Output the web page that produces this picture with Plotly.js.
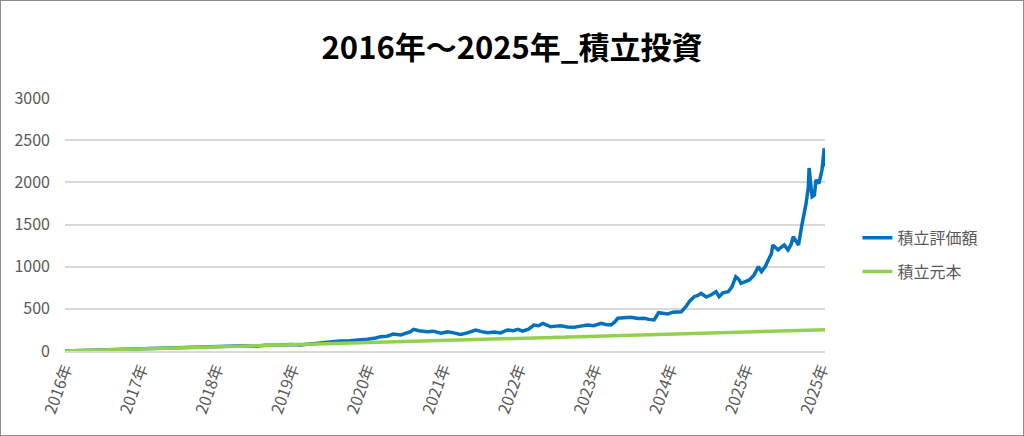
<!DOCTYPE html>
<html>
<head>
<meta charset="utf-8">
<script src="https://cdn.plot.ly/plotly-3.0.1.min.js"></script>
<style>
  html, body { margin: 0; padding: 0; background: #fff; }
  #chart { width: 1022px; height: 434px; border: 1px solid #8c8c8c; }
</style>
</head>
<body>
<div id="chart"></div>
<script>
// Tick labels (category axis, one per year position)
const tickPositions = [0, 1, 2, 3, 4, 5, 6, 7, 8, 9, 10];
const tickLabels = ["2016年", "2017年", "2018年", "2019年", "2020年", "2021年", "2022年", "2023年", "2024年", "2025年", "2025年"];

// 積立評価額 (valuation) — position along axis (years from start) and value
const valuationX = [0.00, 0.20, 0.40, 0.60, 0.79, 0.99, 1.19, 1.39, 1.59, 1.79, 2.00, 2.19, 2.38, 2.52, 2.65, 2.85, 2.99, 3.11, 3.25, 3.38,
  3.51, 3.64, 3.77, 3.91, 4.00, 4.11, 4.17, 4.26, 4.34, 4.44, 4.50, 4.57, 4.61, 4.68, 4.79, 4.87, 4.97, 5.06, 5.14, 5.23,
  5.32, 5.43, 5.51, 5.59, 5.68, 5.76, 5.85, 5.93, 5.99, 6.05, 6.13, 6.20, 6.26, 6.32, 6.38, 6.42, 6.49, 6.56, 6.64, 6.73,
  6.82, 6.91, 6.99, 7.09, 7.15, 7.22, 7.27, 7.31, 7.39, 7.48, 7.58, 7.66, 7.72, 7.79, 7.85, 7.92, 7.97, 8.04, 8.11, 8.15,
  8.21, 8.26, 8.32, 8.37, 8.41, 8.48, 8.54, 8.61, 8.65, 8.70, 8.77, 8.82, 8.87, 8.91, 8.94, 8.99, 9.05, 9.11, 9.17, 9.21,
  9.26, 9.30, 9.34, 9.36, 9.40, 9.43, 9.47, 9.51, 9.56, 9.60, 9.63, 9.67, 9.70, 9.74, 9.77, 9.80, 9.83, 9.84, 9.87, 9.88,
  9.91, 9.93, 9.97, 10.00, 10.01, 10.04, 10.05];
const valuation = [0, 5, 12, 18, 22, 28, 32, 38, 44, 48, 55, 58, 62, 56, 68, 72, 78, 72, 85, 95,
  108, 118, 122, 130, 140, 155, 170, 175, 200, 190, 210, 229, 257, 240, 229, 235, 210, 229, 215, 195,
  215, 249, 230, 217, 225, 215, 249, 240, 257, 235, 260, 308, 300, 328, 305, 288, 295, 300, 285, 281,
  295, 308, 300, 328, 315, 308, 345, 388, 395, 400, 385, 388, 375, 368, 454, 440, 439, 460, 458, 466,
  525, 590, 644, 660, 684, 640, 664, 703, 644, 690, 703, 760, 881, 850, 803, 820, 842, 900, 1000, 940,
  1000, 1079, 1150, 1257, 1220, 1198, 1230, 1257, 1198, 1260, 1355, 1300, 1257, 1474, 1593, 1750, 1948, 2170, 1900, 1830,
  1850, 2028, 1989, 2100, 2146, 2404, 2186];

// 積立元本 (principal)
const principalX = [0, 1, 2, 3, 4, 5, 6, 7, 8, 9, 10, 10.05];
const principal = [0, 25, 50, 75, 100, 125, 150, 175, 200, 225, 249, 251];

const seriesNames = ["積立評価額", "積立元本"];
const titleText = "2016年～2025年_積立投資";

const FONT = "'Noto Sans CJK JP', 'Noto Sans', sans-serif";
const GRAY = "#595959";

const traces = [
  { x: valuationX, y: valuation, name: seriesNames[0], type: "scatter", mode: "lines",
    line: { color: "#0070C0", width: 3.5 }, legendgroup: "a" },
  { x: principalX, y: principal, name: seriesNames[1], type: "scatter", mode: "lines",
    line: { color: "#92D050", width: 3.5 }, legendgroup: "b" }
];

const layout = {
  width: 1022, height: 434,
  margin: { l: 64, r: 198, t: 97, b: 84 },
  paper_bgcolor: "#ffffff", plot_bgcolor: "#ffffff",
  font: { family: FONT, color: GRAY },
  title: { text: titleText, font: { family: FONT, size: 31, color: "#000000", weight: "bold" },
    x: 0.5, xref: "container", xanchor: "center", y: 0.892, yref: "container", yanchor: "middle" },
  xaxis: {
    range: [0, 10.05], tickvals: tickPositions, ticktext: tickLabels, tickangle: -70,
    showgrid: false, zeroline: false, showline: true, linecolor: "#d9d9d9", linewidth: 2,
    ticks: "", tickfont: { family: FONT, size: 16, color: GRAY }
  },
  yaxis: {
    range: [0, 3000], tickvals: [0, 500, 1000, 1500, 2000, 2500, 3000],
    showgrid: true, gridcolor: "#d9d9d9", gridwidth: 2, zeroline: false, showline: false,
    ticks: "", ticklabelstandoff: 14, tickfont: { family: FONT, size: 16, color: GRAY }
  },
  showlegend: true,
  legend: { xref: "container", yref: "container", x: 0.838, y: 0.415, xanchor: "left", yanchor: "middle",
    font: { family: FONT, size: 16, color: GRAY }, tracegroupgap: 10, bgcolor: "rgba(0,0,0,0)" }
};

Plotly.newPlot("chart", traces, layout, { displayModeBar: false, staticPlot: true });
</script>
</body>
</html>
